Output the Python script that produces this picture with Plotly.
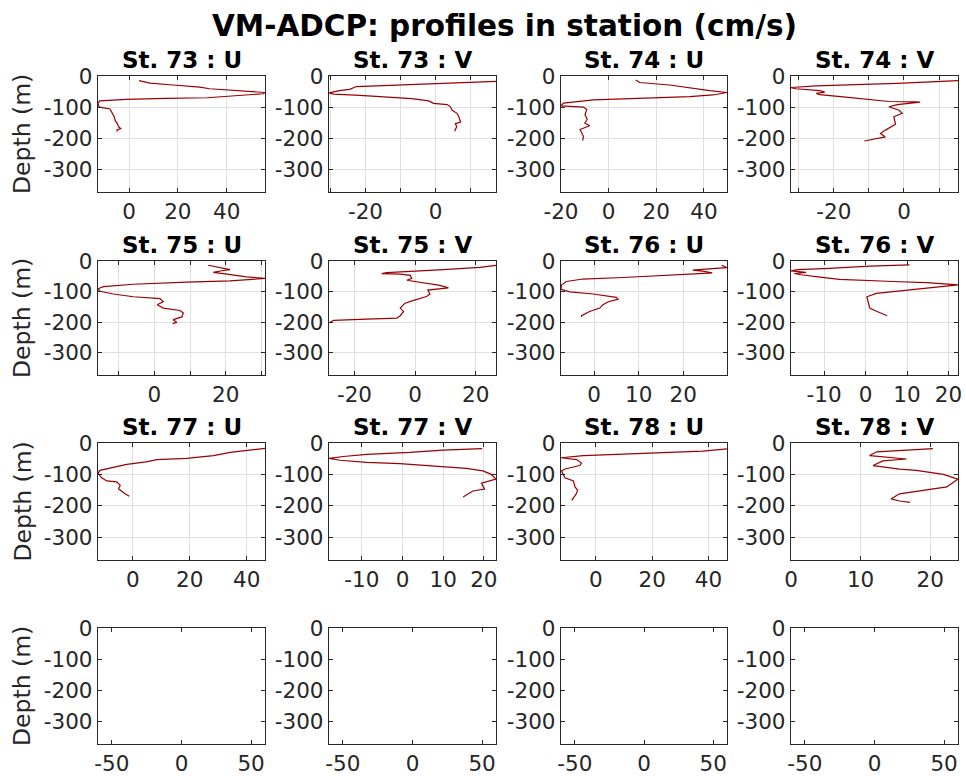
import plotly.graph_objects as go

# ---------------- data ----------------
st73_u_vel = [4.1, 8.6, 18, 29, 33, 45, 55.7, 55, 48, 41, 32, 15, -1, -12, -12.7, -12.4, -12, -7.8, -7, -6, -5.7, -4.8, -4.2, -3.4, -5, -4.8]
st73_u_dep = [-15, -23, -29, -36, -41, -47, -53, -57, -61, -66, -70, -72, -75, -80, -87, -96, -100, -106, -119, -132, -143, -153, -164, -169, -174, -179]

st73_v_vel = [17.2, 12.3, 4.7, -5.4, -16, -22.6, -24.5, -27.4, -30.4, -29, -21.6, -13, -6.8, -2, -0.6, 3.3, 4.2, 4.7, 6.1, 6.6, 7.1, 5.6, 6, 5.4]
st73_v_dep = [-17, -19, -24, -26, -32, -34, -43, -47, -54, -58, -62, -69, -73, -80, -88, -92, -99, -110, -120, -131, -148, -153, -163, -178]

st74_u_vel = [11.4, 13, 25.6, 34, 42.4, 49.7, 43.8, 34, 17, 3.3, -6.4, -19, -20, -10.6, -9.2, -9.9, -9, -10, -8, -12, -10.6, -10.9]
st74_u_dep = [-13, -21, -29, -39, -47, -53, -61, -66, -71, -74, -77, -87, -96, -100, -108, -124, -140, -151, -160, -172, -194, -208]

st74_v_vel = [15.4, 8.7, -1.9, -13.9, -25, -32.2, -30.8, -24, -22.6, -25, -24, -15.9, -9.6, -4.3, 2.9, 4.6, -1.9, -4.3, -1.4, -0.5, -2.9, -2.4, -5.3, -6.7, -5.3, -8.7, -11.3]
st74_v_dep = [-15, -19, -24, -28, -32, -37, -41, -47, -52, -56, -60, -69, -75, -82, -83, -84, -92, -99, -110, -120, -131, -155, -174, -185, -196, -204, -209]

st75_u_vel = [15.1, 21.2, 18.9, 16.5, 19.3, 22.1, 25.9, 31, 21.2, 9.1, -5.9, -14.3, -15.8, -15.2, -11.5, -5.9, 1.6, 2.5, 0.8, 2.5, 7.2, 8.1, 7.7, 5.3, 6.3, 5.1]
st75_u_dep = [-14, -28, -32, -37, -41, -46, -52, -57, -65, -69, -76, -84, -91, -99, -108, -117, -123, -133, -143, -154, -162, -170, -183, -192, -201, -205]

st75_v_vel = [26.7, 21.4, 9.3, 1.6, -4.9, -9.3, -11, -4.9, -1.6, -1.1, -2.7, 1.6, 8.2, 11, 4.2, 4.9, 3.8, -0.5, -3.3, -4.9, -3.8, -4.9, -6, -15.9, -26.9, -28.4]
st75_v_dep = [-14, -21, -28, -32, -37, -38, -41, -43, -47, -57, -63, -69, -80, -88, -95, -108, -116, -129, -138, -154, -165, -179, -187, -190, -194, -203]

st76_u_vel = [28.6, 29.8, 26.5, 22.1, 24.3, 26.5, 23.6, 16.1, 6.5, -2.5, -6.2, -7.3, -7.4, -5.4, -0.2, 5, 5.4, 3.1, 2, 1.3, -1, -2.8, -2.8]
st76_u_dep = [-14, -22, -25, -30, -33, -39, -41, -47, -54, -59, -67, -79, -93, -101, -108, -119, -125, -134, -143, -154, -165, -179, -183]

st76_v_vel = [10.6, 1, -8.7, -16.4, -18, -14.4, -17.2, -15.6, -11.5, -6.3, 6.6, 14.7, 22.3, 18.3, 10.6, 2.6, 0.3, 0.6, 1, 2.2, 5.2]
st76_v_dep = [-13, -17, -24, -28, -32, -37, -41, -45, -52, -60, -67, -71, -78, -84, -95, -106, -117, -138, -154, -162, -179]

st77_u_vel = [46.4, 40, 34.2, 28.3, 18.9, 8.4, 4.7, -2.1, -8, -11.5, -12.2, -10.9, -9.1, -5.6, -4.4, -5, -2.7, -1.2]
st77_u_dep = [-17, -23, -30, -40, -49, -53, -60, -68, -79, -87, -96, -111, -121, -124, -135, -146, -162, -170]

st77_v_vel = [19.6, 10, 1.8, -8.8, -14.6, -18.1, -15.4, -8.8, -0.7, 9.2, 15.7, 19.8, 21.8, 23, 19.4, 20.2, 17.3, 14.9]
st77_v_dep = [-18, -23, -30, -36, -43, -49, -55, -62, -66, -74, -81, -89, -100, -115, -128, -147, -153, -172]

st78_u_vel = [46.6, 38, 19.1, -4.5, -12.4, -6.8, -5.1, -5.7, -11, -12.2, -11, -8, -7.4, -6.5, -7.1, -8.6]
st78_u_dep = [-19, -26, -32, -40, -47, -53, -64, -72, -83, -89, -111, -121, -140, -151, -164, -183]

st78_v_vel = [20.4, 15.1, 12.3, 11.3, 13.7, 16.6, 13.2, 12.3, 11.8, 15.6, 18, 21.9, 24, 22.4, 18, 15.6, 14.4, 15.6, 17.1]
st78_v_dep = [-18, -23, -28, -40, -45, -51, -57, -66, -72, -83, -87, -100, -115, -140, -155, -162, -178, -185, -189]

panel_titles = ["St. 73 : U", "St. 73 : V", "St. 74 : U", "St. 74 : V",
                "St. 75 : U", "St. 75 : V", "St. 76 : U", "St. 76 : V",
                "St. 77 : U", "St. 77 : V", "St. 78 : U", "St. 78 : V"]
panel_vel = [st73_u_vel, st73_v_vel, st74_u_vel, st74_v_vel,
             st75_u_vel, st75_v_vel, st76_u_vel, st76_v_vel,
             st77_u_vel, st77_v_vel, st78_u_vel, st78_v_vel]
panel_dep = [st73_u_dep, st73_v_dep, st74_u_dep, st74_v_dep,
             st75_u_dep, st75_v_dep, st76_u_dep, st76_v_dep,
             st77_u_dep, st77_v_dep, st78_u_dep, st78_v_dep]
panel_xticks = [[0, 20, 40], [-30, -20, -10, 0, 10], [-20, 0, 20, 40], [-30, -20, -10, 0, 10],
                [-10, 0, 10, 20, 30], [-20, 0, 20], [0, 10, 20], [-10, 0, 10, 20],
                [0, 20, 40], [-10, 0, 10, 20], [0, 20, 40], [0, 10, 20]]
panel_xlabels = [["0", "20", "40"], ["", "-20", "", "0", ""], ["-20", "0", "20", "40"], ["", "-20", "", "0", ""],
                 ["", "0", "", "20", ""], ["-20", "0", "20"], ["0", "10", "20"], ["-10", "0", "10", "20"],
                 ["0", "20", "40"], ["-10", "0", "10", "20"], ["0", "20", "40"], ["0", "10", "20"]]
empty_xticks = [-50, 0, 50]
empty_xlabels = ["-50", "0", "50"]
empty_xrange = [-60, 60]
depth_ticks = [0, -100, -200, -300]
depth_labels = ["0", "-100", "-200", "-300"]
depth_range = [-373, 0]

main_title = "VM-ADCP: profiles in station (cm/s)"
ylabel = "Depth (m)"

# ---------------- layout geometry ----------------
W, H = 966, 776
col_px = [(98, 265), (329, 496), (561, 727), (791, 958)]
row_px = [(76, 192), (261, 375), (443, 560), (628, 744)]

FONT = "DejaVu Sans"
AX = "#262626"
GRID = "#e0e0e0"
LINE = "#990000"

fig = go.Figure()
layout = dict(width=W, height=H, margin=dict(l=0, r=0, t=0, b=0, autoexpand=False),
              paper_bgcolor="white", plot_bgcolor="white", showlegend=False,
              font=dict(family=FONT, color=AX))
annotations = []

for k in range(16):
    r, c = divmod(k, 4)
    xa = "xaxis" if k == 0 else f"xaxis{k+1}"
    ya = "yaxis" if k == 0 else f"yaxis{k+1}"
    xr = f"x{k+1}" if k else "x"
    yr = f"y{k+1}" if k else "y"
    x0, x1 = col_px[c]
    y0, y1 = row_px[r]
    xdom = [x0 / W, x1 / W]
    ydom = [1 - y1 / H, 1 - y0 / H]
    has_data = k < 12
    if has_data:
        v = panel_vel[k]
        d = panel_dep[k]
        fig.add_trace(go.Scatter(x=v, y=d, mode="lines", xaxis=xr, yaxis=yr,
                                 line=dict(color=LINE, width=1.2), hoverinfo="skip"))
        lo = min(min(v), 0)
        hi = max(max(v), 0)
        xrange = [lo, hi]
        tv, tt = panel_xticks[k], panel_xlabels[k]
    else:
        fig.add_trace(go.Scatter(x=[None], y=[None], mode="lines", xaxis=xr, yaxis=yr))
        xrange = empty_xrange
        tv, tt = empty_xticks, empty_xlabels
    common = dict(showline=True, linecolor=AX, linewidth=1.3, mirror="ticks",
                  ticks="inside", ticklen=4, tickcolor=AX, tickwidth=1,
                  showgrid=has_data, gridcolor=GRID, gridwidth=1, zeroline=False,
                  automargin=False,
                  tickfont=dict(family=FONT, size=21.5, color=AX), fixedrange=True)
    layout[xa] = dict(domain=xdom, anchor=yr, range=xrange, tickmode="array",
                      tickvals=tv, ticktext=tt, **common)
    layout[ya] = dict(domain=ydom, anchor=xr, range=depth_range, tickmode="array",
                      tickvals=depth_ticks, ticktext=depth_labels, **common)
    if has_data:
        annotations.append(dict(text="<b>" + panel_titles[k] + "</b>", xref="paper", yref="paper",
                                x=(x0 + x1) / 2 / W, y=1 - y0 / H, xanchor="center", yanchor="middle",
                                yshift=16, showarrow=False,
                                font=dict(family=FONT, size=23, color="black")))
    if c == 0:
        annotations.append(dict(text=ylabel, xref="paper", yref="paper",
                                x=22 / W, y=1 - (y0 + y1) / 2 / H, xanchor="center", yanchor="middle",
                                textangle=-90, showarrow=False,
                                font=dict(family=FONT, size=23.5, color=AX)))

annotations.append(dict(text="<b>" + main_title + "</b>", xref="paper", yref="paper",
                        x=504 / W, y=1 - 26 / H, xanchor="center", yanchor="middle",
                        showarrow=False, font=dict(family=FONT, size=29.5, color="black")))
layout["annotations"] = annotations
fig.update_layout(**layout)

fig.write_html("out.html", config={"displayModeBar": False},
               post_script="document.body.style.margin='0';")
